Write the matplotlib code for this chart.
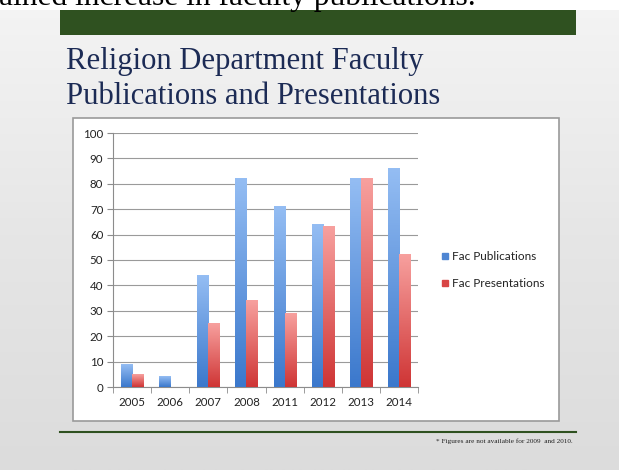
import numpy as np
import matplotlib
matplotlib.use('Agg')
import matplotlib.pyplot as plt
from matplotlib.colors import LinearSegmentedColormap
from matplotlib.patches import Rectangle
from matplotlib.lines import Line2D

# chart data
years = ['2005', '2006', '2007', '2008', '2011', '2012', '2013', '2014']
publications = [9, 4, 44, 82, 71, 64, 82, 86]
presentations = [5, 0, 25, 34, 29, 63, 82, 52]
series_names = ['Fac Publications', 'Fac Presentations']
y_ticks = list(range(0, 101, 10))

W, H = 619, 470


def fx(px):
    return px / W


def fy(py):
    # pixel from top -> figure fraction from bottom
    return 1 - py / H


fig = plt.figure(figsize=(W / 100, H / 100), dpi=100)

# slide background: soft gray gradient
bg = fig.add_axes([0, 0, 1, 1], zorder=-10)
grad = np.linspace(0, 1, 256).reshape(-1, 1)
bg_cmap = LinearSegmentedColormap.from_list('bg', ['#f4f4f4', '#e6e6e6', '#dcdcdc'])
bg.imshow(grad, aspect='auto', cmap=bg_cmap, extent=[0, 1, 0, 1], origin='upper')
bg.set_xlim(0, 1)
bg.set_ylim(0, 1)
bg.axis('off')

# white page strip above the slide, with the cut off document line
fig.patches.append(Rectangle((0, fy(10)), 1, 10 / H, transform=fig.transFigure,
                             facecolor='white', edgecolor='none', zorder=0))
fig.text(fx(476), fy(5), 'ained increase in faculty publications.', family='Liberation Serif',
         fontsize=22.7, color='black', va='baseline', ha='right')

# green header bar
fig.patches.append(Rectangle((fx(60), fy(35)), fx(576 - 60), 25 / H, transform=fig.transFigure,
                             facecolor='#2f5120', edgecolor='none', zorder=1))

# slide title
title_color = '#1c2b55'
fig.text(fx(66), fy(69), 'Religion Department Faculty', family='Liberation Serif',
         fontsize=22.1, color=title_color, va='baseline')
fig.text(fx(66), fy(104), 'Publications and Presentations', family='Liberation Serif',
         fontsize=22.1, color=title_color, va='baseline')

# white chart frame
fig.patches.append(Rectangle((fx(73), fy(421)), fx(559 - 73), (421 - 118) / H, transform=fig.transFigure,
                             facecolor='white', edgecolor='#9a9a9a', linewidth=1.2, zorder=1))

# green footer rule and footnote
fig.add_artist(Line2D([fx(60), fx(576)], [fy(432), fy(432)], color='#2f5120', linewidth=1.5))
fig.text(fx(573), fy(443), '* Figures are not available for 2009  and 2010.', family='Liberation Serif',
         fontsize=5.2, color='#222222', ha='right', va='baseline')

# plot area
ax = fig.add_axes([fx(113), fy(387), fx(418 - 113), (387 - 133) / H], zorder=2)
ax.patch.set_alpha(0)

x = np.arange(len(years))
bw = 0.29
blue_cmap = LinearSegmentedColormap.from_list('blue', ['#3b78cc', '#94bdf3'])
red_cmap = LinearSegmentedColormap.from_list('red', ['#cf3535', '#f7a09e'])

bars_pub = ax.bar(x - bw / 2, publications, width=bw, color='none', edgecolor='none', zorder=3)
bars_pre = ax.bar(x + bw / 2, presentations, width=bw, color='none', edgecolor='none', zorder=3)

g = np.linspace(0, 1, 100).reshape(-1, 1)
for bars, cmap in [(bars_pub, blue_cmap), (bars_pre, red_cmap)]:
    for b in bars:
        h = b.get_height()
        if h <= 0:
            continue
        x0 = b.get_x()
        ax.imshow(g, cmap=cmap, aspect='auto', origin='lower',
                  extent=[x0, x0 + b.get_width(), 0, h], zorder=3)

ax.set_xlim(-0.5, len(years) - 0.5)
ax.set_ylim(0, 100)
ax.set_yticks(y_ticks)
ax.set_xticks(x)
ax.set_xticklabels(years)
ax.set_xticks(np.arange(-0.5, len(years)), minor=True)
ax.tick_params(axis='x', which='major', length=0, pad=7)
ax.tick_params(axis='x', which='minor', length=4, color='#8c8c8c', direction='out')
ax.tick_params(axis='y', length=4, color='#8c8c8c', direction='out', pad=3)
for lab in ax.get_xticklabels() + ax.get_yticklabels():
    lab.set_family('Lato')
    lab.set_fontsize(8.3)
    lab.set_color('#222222')

ax.grid(axis='y', color='#9a9a9a', linewidth=0.8)
ax.set_axisbelow(True)
for s in ['top', 'right']:
    ax.spines[s].set_visible(False)
for s in ['left', 'bottom']:
    ax.spines[s].set_color('#8c8c8c')
    ax.spines[s].set_linewidth(0.8)

# legend
handles = [Line2D([], [], marker='s', linestyle='none', markersize=5, color=c)
           for c in ['#4f86d3', '#d84545']]
leg = fig.legend(handles, series_names, loc='center left',
                 bbox_to_anchor=(fx(428), fy(270)), frameon=False,
                 prop={'family': 'Lato', 'size': 8.5}, handletextpad=0.1,
                 handlelength=1.0, labelspacing=1.3)
for t in leg.get_texts():
    t.set_color('#222222')

fig.savefig('out.png', dpi=100)
